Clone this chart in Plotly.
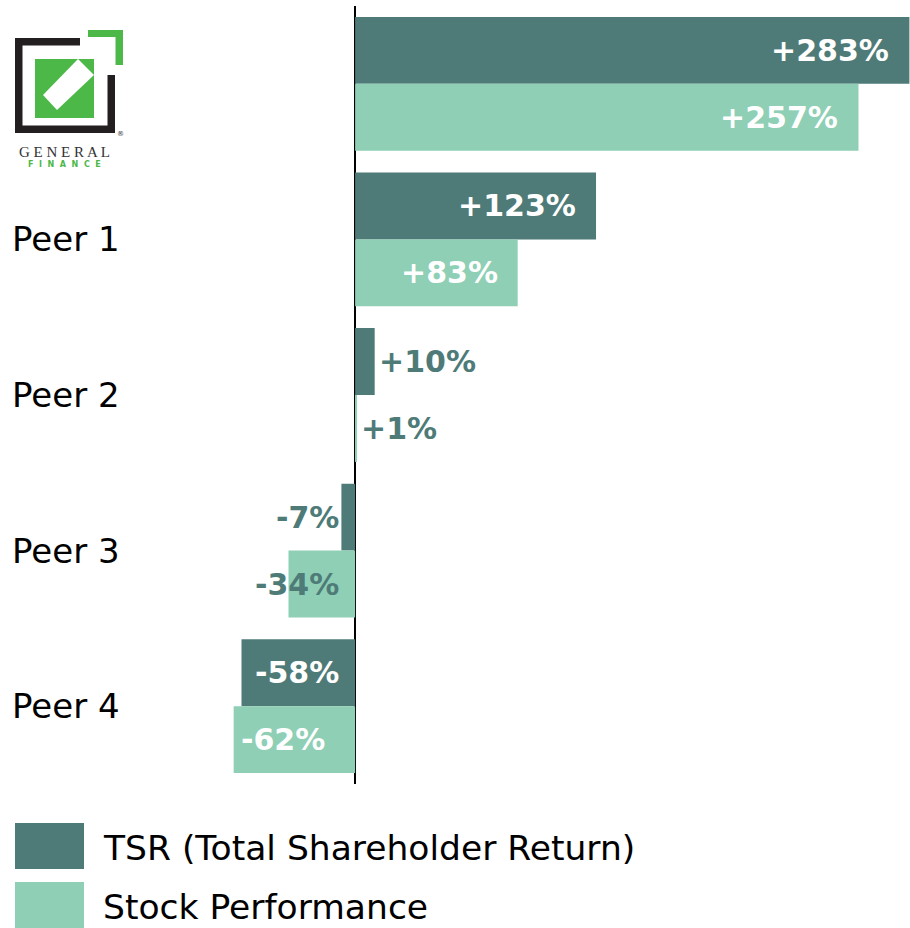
import plotly.graph_objects as go

categories = ["General Finance", "Peer 1", "Peer 2", "Peer 3", "Peer 4"]
tick_labels = ["", "Peer 1", "Peer 2", "Peer 3", "Peer 4"]
tsr = [283, 123, 10, -7, -58]
stock = [257, 83, 1, -34, -62]
series_names = ["TSR (Total Shareholder Return)", "Stock Performance"]

DARK = "#4e7b78"
LIGHT = "#8ecfb5"
GREEN = "#4cb848"
FONT = "DejaVu Sans"

W, H = 910, 928
PT, PB = 6, 784  # plot area top / bottom in pixels


def px(x):
    return x / W


def py(y):
    return (PB - y) / (PB - PT)


fig = go.Figure()
fig.add_trace(go.Bar(y=categories, x=tsr, orientation="h", name=series_names[0],
                     marker=dict(color=DARK, line=dict(width=0)), showlegend=False))
fig.add_trace(go.Bar(y=categories, x=stock, orientation="h", name=series_names[1],
                     marker=dict(color=LIGHT, line=dict(width=0)), showlegend=False))

annotations = []
# value labels
for ti, (vals, off) in enumerate([(tsr, -0.215), (stock, 0.215)]):
    for ci, v in enumerate(vals):
        txt = f"{v:+d}%"
        if v >= 50:
            a = dict(x=v, xanchor="right", xshift=-18, color="white")
        elif v >= 0:
            a = dict(x=v, xanchor="left", xshift=2, color=DARK)
        elif v > -50:
            a = dict(x=0, xanchor="right", xshift=-14, color=DARK)
        elif ti == 0:
            a = dict(x=0, xanchor="right", xshift=-14, color="white")
        else:
            a = dict(x=v, xanchor="left", xshift=5, color="white")
        annotations.append(dict(
            x=a["x"], y=ci + off, xref="x", yref="y", text=f"<b>{txt}</b>",
            showarrow=False, xanchor=a["xanchor"], yanchor="middle", xshift=a["xshift"],
            font=dict(family=FONT, size=30, color=a["color"])))

# legend (drawn)
shapes = []
leg_rows = [(823, 869, DARK, series_names[0]), (882, 928, LIGHT, series_names[1])]
for y0, y1, col, name in leg_rows:
    shapes.append(dict(type="rect", xref="paper", yref="paper", x0=px(15), x1=px(84),
                       y0=py(y1), y1=py(y0), fillcolor=col, line=dict(width=0), layer="above"))
    annotations.append(dict(x=px(101), y=py((y0 + y1) / 2 + 2), xref="paper", yref="paper",
                            text=name, showarrow=False, xanchor="left", yanchor="middle",
                            font=dict(family=FONT, size=34.5, color="black")))

# logo
def rect(x0, y0, x1, y1, col):
    return dict(type="rect", xref="paper", yref="paper", x0=px(x0), x1=px(x1),
                y0=py(y1), y1=py(y0), fillcolor=col, line=dict(width=0), layer="above")


def poly(pts, col):
    d = "M " + " L ".join(f"{px(x)},{py(y)}" for x, y in pts) + " Z"
    return dict(type="path", xref="paper", yref="paper", path=d, fillcolor=col,
                line=dict(width=0), layer="above")


BLK = "#231f20"
shapes += [
    rect(15, 38, 22.5, 133, BLK),
    rect(15, 125.5, 115, 133, BLK),
    rect(15, 38, 80, 45.5, BLK),
    rect(107.5, 75, 115, 133, BLK),
    rect(88, 30, 123, 37, GREEN),
    rect(115.5, 30, 123, 65, GREEN),
    rect(35, 59, 94, 118, GREEN),
    poly([(43, 95), (78, 59), (94, 75), (57, 110)], "white"),
]
annotations += [
    dict(x=px(64), y=py(152), xref="paper", yref="paper", text="G E N E R A L",
         showarrow=False, xanchor="center", yanchor="middle",
         font=dict(family="Liberation Serif", size=15, color="#333333")),
    dict(x=px(64), y=py(164), xref="paper", yref="paper", text="<b>F  I  N  A  N  C  E</b>",
         showarrow=False, xanchor="center", yanchor="middle",
         font=dict(family="DejaVu Sans", size=8, color=GREEN)),
    dict(x=px(120), y=py(134), xref="paper", yref="paper", text="®",
         showarrow=False, xanchor="center", yanchor="middle",
         font=dict(family="DejaVu Sans", size=7, color="#333333")),
]

fig.update_layout(
    width=W, height=H,
    margin=dict(l=0, r=0, t=PT, b=H - PB, pad=0),
    paper_bgcolor="white", plot_bgcolor="white",
    barmode="group", bargap=0.14, bargroupgap=0,
    shapes=shapes, annotations=annotations,
    showlegend=False,
    xaxis=dict(range=[-181.3, 283.3], showgrid=False, showticklabels=False, ticks="",
               zeroline=True, zerolinecolor="black", zerolinewidth=2, fixedrange=True),
    yaxis=dict(autorange="reversed", tickmode="array", tickvals=categories, ticktext=tick_labels,
               ticklabelposition="inside", ticklabelstandoff=9, showgrid=False,
               zeroline=False, showline=False, ticks="",
               tickfont=dict(family=FONT, size=34, color="black")),
    font=dict(family=FONT),
)

fig.write_html("out.html", config={"displayModeBar": False},
               post_script="document.body.style.margin='0';document.body.style.overflow='hidden';")
